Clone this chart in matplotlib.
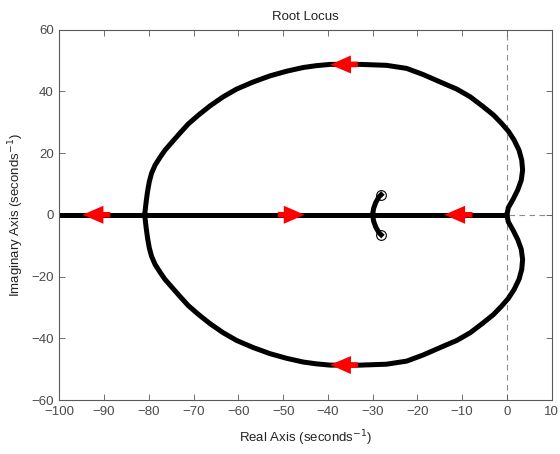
import matplotlib
matplotlib.use("Agg")
import matplotlib.pyplot as plt
import numpy as np

plt.rcParams["font.family"] = ["Liberation Sans", "DejaVu Sans"]

# upper branch of the locus (real, imag)
upper_re = [0, 0.3, 1.4, 2.4, 3.2, 3.5, 3.3, 2.7, 1.6, 0.3, -1.2, -3.0,
            -5.3, -8.2, -11.2, -14.9, -18.7, -22.4, -26.9, -32.8, -39.5,
            -42.5, -45.5, -49.2, -52.9, -56.7, -60.4, -63.4, -66.3, -68.9,
            -71.2, -73.2, -74.9, -76.4, -77.5, -78.6, -79.4, -79.9, -80.3,
            -80.6, -80.85, -80.9]
upper_im = [0, 2.3, 5.1, 8.0, 11.2, 14.5, 17.7, 20.9, 24.2, 27.1, 29.6, 32.3,
            35.0, 38.2, 40.7, 43.0, 45.4, 47.4, 48.4, 48.7, 48.7,
            48.3, 47.7, 46.5, 45.0, 43.0, 40.7, 38.2, 35.3, 32.3,
            29.4, 26.2, 23.4, 20.9, 18.6, 16.1, 13.4, 10.7, 7.4,
            4.2, 1.0, 0]

# short branch ending at the complex zeros
zero_re = [-30.0, -29.8, -29.3, -28.6, -28.1]
zero_im = [0, 2.0, 4.0, 5.8, 6.5]

# real-axis segment
axis_re = [-100, 0]

zeros = [(-28.1, 6.5), (-28.1, -6.5)]

# arrows: (tip, tail)
arrows = [((-94.8, 0), (-88.6, 0)),
          ((-45.2, 0), (-51.2, 0)),
          ((-14.0, 0), (-7.7, 0)),
          ((-39.5, 48.6), (-33.3, 48.7)),
          ((-39.5, -48.6), (-33.3, -48.7))]

fig = plt.figure(figsize=(5.6, 4.54), dpi=100)
ax = fig.add_axes([0.1059, 0.1189, 0.8793, 0.8161])

gray = "#5a5a5a"
ax.axhline(0, color="#8c8c8c", lw=0.8, ls=(0, (5, 4)), zorder=1)
ax.axvline(0, color="#8c8c8c", lw=0.8, ls=(0, (5, 4)), zorder=1)

lw = 3.6
ax.plot(axis_re, [0, 0], color="k", lw=lw, solid_capstyle="butt", zorder=2)
ax.plot(upper_re, upper_im, color="k", lw=lw, solid_joinstyle="round", zorder=2)
ax.plot(upper_re, [-v for v in upper_im], color="k", lw=lw,
        solid_joinstyle="round", zorder=2)
ax.plot(zero_re, zero_im, color="k", lw=lw, zorder=2)
ax.plot(zero_re, [-v for v in zero_im], color="k", lw=lw, zorder=2)

for re, im in zeros:
    ax.plot(re, im, "o", mfc="none", mec="k", ms=7, mew=0.8, zorder=3)

for tip, tail in arrows:
    ax.annotate("", xy=tip, xytext=tail,
                arrowprops=dict(arrowstyle="simple,head_length=0.75,head_width=0.65,tail_width=0.2",
                                fc="red", ec="none", lw=0, mutation_scale=20,
                                shrinkA=0, shrinkB=0),
                zorder=4)

ax.set_xlim(-100, 10)
ax.set_ylim(-60, 60)
ax.set_xticks(np.arange(-100, 11, 10))
ax.set_yticks(np.arange(-60, 61, 20))
ax.tick_params(direction="in", top=True, right=True, length=4, width=0.6,
               colors=gray, labelsize=9.5, labelcolor="#4a4a4a", pad=4)
for s in ax.spines.values():
    s.set_color(gray)
    s.set_linewidth(0.8)

ax.set_title("Root Locus", fontsize=9.5, color="#222222", pad=7)
ax.set_xlabel("Real Axis (seconds$^{-1}$)", fontsize=9.5, color="#222222", labelpad=8)
ax.set_ylabel("Imaginary Axis (seconds$^{-1}$)", fontsize=9.5, color="#222222", labelpad=4)

fig.savefig("out.png", dpi=100)
